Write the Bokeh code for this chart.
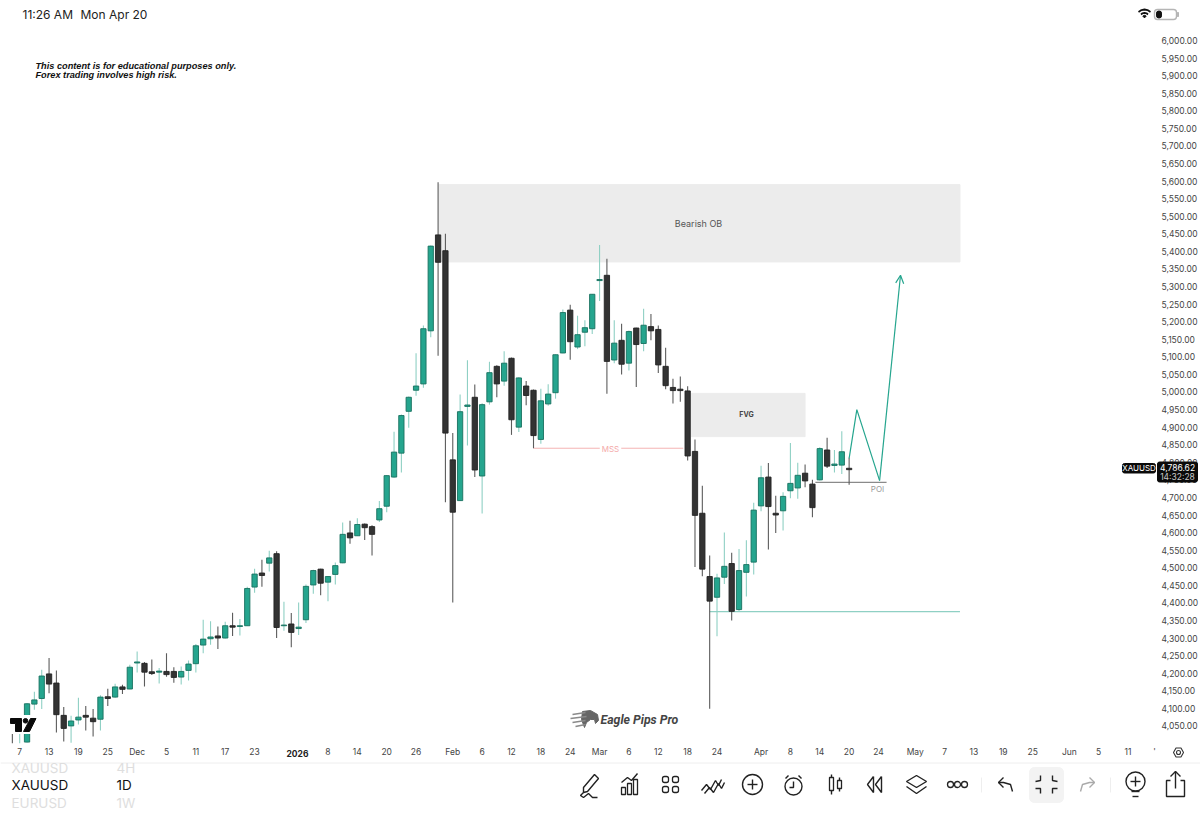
from bokeh.embed import file_html
from bokeh.resources import INLINE
from bokeh.layouts import column
from bokeh.models import (ColumnDataSource, Range1d, LinearAxis, FixedTicker, NumeralTickFormatter,
                          Label, Arrow, OpenHead)
from bokeh.plotting import figure

# ------- daily XAUUSD bars (first bar index = -1) -------
opens = [4056,4040,4004,4112,4128,4198,4172,4080,4050,4067,4080,4072,4069,4133,4132,4161,4155,4229,4228,4204,4203,4205,4205,4189,4208,4227,4280,4298,4306,4300,4335,4333,4335,4445,4485,4513,4540,4335,4340,4327,4352,4451,4496,4459,4481,4514,4599,4591,4624,4617,4636,4675,4758,4826,4945,5005,5023,5174,5447,5402,4807,4691,4959,4985,4761,4972,5073,5031,5096,4900,5017,5005,4865,4966,4998,5111,5233,5128,5170,5180,5317,5332,5091,5147,5082,5182,5138,5186,5178,5073,5013,5008,5003,4831,4655,4475,4416,4473,4512,4381,4487,4516,4676,4758,4655,4662,4719,4727,4769,4738,4750,4835,4791,4792,4783]
highs = [4070,4065,4115,4147,4210,4243,4208,4104,4079,4130,4107,4098,4137,4156,4170,4167,4224,4262,4232,4239,4215,4257,4217,4219,4236,4283,4352,4348,4333,4346,4372,4354,4446,4497,4523,4548,4547,4403,4371,4401,4452,4494,4497,4476,4515,4629,4634,4641,4626,4621,4690,4764,4887,4936,4987,5110,5189,5417,5597,5450,4883,4993,5090,5021,4968,5086,5076,5116,5098,5042,5031,5007,5009,5022,5107,5235,5248,5217,5204,5279,5418,5379,5204,5194,5175,5183,5237,5222,5189,5126,5038,5044,5016,4865,4733,4535,4483,4600,4543,4553,4578,4685,4790,4798,4705,4715,4855,4799,4794,4750,4843,4870,4835,4888,4813]
lows = [4001,4001,4003,4096,4098,4143,4031,4006,4002,4054,4037,4020,4037,4107,4130,4141,4154,4202,4162,4195,4171,4190,4173,4168,4179,4202,4257,4281,4269,4299,4306,4307,4335,4429,4446,4489,4300,4321,4274,4309,4343,4426,4422,4405,4452,4513,4568,4590,4579,4535,4630,4658,4756,4771,4898,4989,5012,5156,5103,4686,4401,4690,4848,4758,4654,4964,4985,5018,4878,4886,4962,4840,4853,4961,4981,5110,5092,5122,5130,5165,5259,4995,5082,5050,5061,5014,5116,5147,5054,5008,4967,4972,4805,4502,4476,4099,4305,4454,4350,4374,4418,4481,4661,4552,4599,4606,4698,4696,4729,4644,4748,4784,4771,4767,4736]
closes = [4040,4061,4113,4124,4192,4169,4082,4043,4064,4075,4075,4062,4132,4128,4161,4154,4217,4232,4203,4199,4206,4196,4188,4205,4226,4278,4297,4303,4300,4335,4331,4335,4441,4482,4478,4528,4330,4337,4316,4331,4447,4492,4456,4475,4506,4595,4585,4623,4614,4595,4668,4762,4829,4933,4985,5017,5180,5415,5369,4883,4658,4944,4963,4778,4964,5055,5023,5082,4921,5040,4990,4876,4975,4994,5106,5226,5143,5163,5183,5278,5320,5087,5139,5079,5172,5135,5190,5174,5077,5018,5004,5004,4818,4649,4496,4405,4471,4504,4376,4492,4509,4664,4756,4674,4650,4703,4740,4763,4747,4671,4839,4789,4795,4830,4779]

# ------- axes -------
price_ticks = list(range(4050, 6001, 50))
date_tick_pos = [0,4,8,12,16,20,24,28,32,42,46,50,54,59,63,67,71,75,79,83,87,91,95,101,105,109,113,117,122,126,130,134,138,143,147,151,154.6]
date_tick_lbl = ["7","13","19","25","Dec","5","11","17","23","8","14","20","26","Feb","6","12","18","24","Mar","6","12","18","24","Apr","8","14","20","24","May","7","13","19","25","Jun","5","11","'"]
bold_year = "2026"

# ------- chart annotations -------
ob_left, ob_right, ob_top, ob_bottom = 57.1, 128.1, 5590, 5370
fvg_left, fvg_right, fvg_top, fvg_bottom = 91.5, 107.0, 4996, 4873
mss_x, mss_y = [70, 90.4], 4840
poi_x, poi_y = [108.4, 118.1], 4743
support_x, support_y = [94, 128.1], 4375
path_x = [113, 114.05, 117.15, 120]
path_y = [4811, 4950, 4748, 5332]

FONT = "Inter"
TEAL, TEAL_EDGE, TEAL_WICK = "#25a58e", "#17705f", "#8fd0c4"
DARK, DARK_EDGE, DARK_WICK = "#333333", "#222222", "#5c5c5c"
INK = "#222222"
MAIN_TOP = 30

# ------- top status strip -------
top = figure(width=1200, height=MAIN_TOP, x_range=Range1d(0, 1200), y_range=Range1d(30, 0),
             output_backend="svg", toolbar_location=None, outline_line_color=None, frame_align=False,
             min_border=0, x_axis_location=None, y_axis_location=None)
top.grid.visible = False
top.add_layout(Label(x=22, y=14, text="11:26 AM", text_font=FONT, text_font_size="12px", text_color=INK, text_baseline="middle"))
top.add_layout(Label(x=80, y=14, text="Mon Apr 20", text_font=FONT, text_font_size="12px", text_color=INK, text_baseline="middle"))
top.multi_line(xs=[[1138,1141,1144,1147,1150],[1140.5,1142,1144,1146,1147.5]],
               ys=[[11.5,9.6,9,9.6,11.5],[14,12.8,12.3,12.8,14]], line_color="#111111", line_width=1.8)
top.patch([1142.3,1144,1145.7,1144],[15.6,14.8,15.6,17.4], color="#111111")
top.quad(left=[1154], right=[1176], top=[9], bottom=[19], fill_color="white", line_color="#b5b5b5", line_width=1.4, border_radius=3)
top.quad(left=[1156], right=[1161], top=[10.6], bottom=[17.4], color="#111111", border_radius=2)
top.quad(left=[1176.8], right=[1178], top=[12], bottom=[16], color="#b5b5b5")

# ------- main chart (frame fills the whole canvas, axes sit at fixed locations inside it) -------
p = figure(width=1200, height=728, x_range=Range1d(-2.616, 160.87), y_range=Range1d(3957.3, 6028.45),
           output_backend="svg", toolbar_location=None, outline_line_color=None, frame_align=False,
           min_border=0, x_axis_location=None, y_axis_location=None)
p.grid.visible = False
p.extra_x_ranges["px"] = Range1d(0, 1200)
p.extra_y_ranges["py"] = Range1d(758, 30)

yax = LinearAxis(ticker=FixedTicker(ticks=price_ticks), formatter=NumeralTickFormatter(format="0,0.00"),
                 fixed_location=154.74,
                 axis_line_color=None, major_tick_line_color=None, minor_tick_line_color=None,
                 major_tick_out=0, major_tick_in=0, minor_tick_out=0, minor_tick_in=0,
                 major_label_text_font=FONT, major_label_text_font_size="8.5px",
                 major_label_text_color="#444444", major_label_standoff=6)
p.add_layout(yax, "right")
xax = LinearAxis(ticker=FixedTicker(ticks=date_tick_pos),
                 major_label_overrides=dict(zip(date_tick_pos, date_tick_lbl)),
                 fixed_location=4006,
                 axis_line_color=None, major_tick_line_color=None, minor_tick_line_color=None,
                 major_tick_out=0, major_tick_in=0, minor_tick_out=0, minor_tick_in=0,
                 major_label_text_font=FONT, major_label_text_font_size="8.5px",
                 major_label_text_color="#444444", major_label_standoff=6)
p.add_layout(xax, "below")

# zones (under the candles)
p.quad(left=[ob_left], right=[ob_right], top=[ob_top], bottom=[ob_bottom], color="#ececec")
p.quad(left=[fvg_left], right=[fvg_right], top=[fvg_top], bottom=[fvg_bottom], color="#ececec")
p.line(mss_x, [mss_y]*2, line_color="#f4b4b4", line_width=1)
p.line(support_x, [support_y]*2, line_color=TEAL_WICK, line_width=1.2)
p.line(poi_x, [poi_y]*2, line_color="#8a8a8a", line_width=1.2)

idx = list(range(-1, len(opens) - 1))
up = [c >= o for o, c in zip(opens, closes)]
src = ColumnDataSource(dict(
    x=idx, o=opens, h=highs, l=lows, c=closes,
    wick=[TEAL_WICK if u else DARK_WICK for u in up],
    fill=[TEAL if u else DARK for u in up],
    edge=[TEAL_EDGE if u else DARK_EDGE for u in up],
))
p.segment("x", "h", "x", "l", source=src, line_color="wick", line_width=1.1)
p.vbar(x="x", top="o", bottom="c", width=0.72, source=src, fill_color="fill", line_color="edge", line_width=0.9)

# projection path
p.line(path_x[:3], path_y[:3], line_color=TEAL, line_width=1.2)
p.add_layout(Arrow(x_start=path_x[2], y_start=path_y[2], x_end=path_x[3], y_end=path_y[3],
                   line_color=TEAL, line_width=1.2,
                   end=OpenHead(size=8, line_color=TEAL, line_width=1.2)))

def lab(x, y, text, size, color=INK, style="normal", align="left", font=FONT, **kw):
    p.add_layout(Label(x=x, y=y - MAIN_TOP, x_units="canvas", y_units="canvas", text=text, text_font=font,
                       text_font_size=size, text_color=color, text_font_style=style, text_align=align,
                       text_baseline="middle", **kw))

PX = dict(x_range_name="px", y_range_name="py")

lab(698, 223, "Bearish OB", "9px", "#555555", align="center")
lab(746, 414, "FVG", "7px", "#444444", "bold", "center")
lab(610, 448.5, "MSS", "8px", "#f4a9a9", align="center", background_fill_color="white", padding=2)
lab(877, 488, "POI", "8px", "#9a9a9a", align="center")
lab(35, 65.5, "This content is for educational purposes only.", "9.2px", "#111111", "bold italic", font="Liberation Sans")
lab(35, 74, "Forex trading involves high risk.", "9.2px", "#111111", "bold italic", font="Liberation Sans")
lab(600, 719, "Eagle Pips Pro", "12.3px", "#444444", "bold italic", font="Roboto")
lab(297, 752.5, bold_year, "8.5px", "#222222", "bold", "center")

# TradingView mark and eagle mark
p.quad(left=[8], right=[38], top=[715], bottom=[733], color="white", **PX)
p.patch([10,21,21,15,15,10],[718,718,731,731,723,723], color="#0a0a0a", **PX)
p.patch([30,35.5,29,23],[718,718,731,731], color="#0a0a0a", **PX)
p.scatter([25],[720.3], size=4.6, color="#0a0a0a", **PX)
p.patch([582,590,597,598,595,594,590,586,584,581],[711,710,714,720,723,719,719,722,727,719], color="#666666", **PX)
p.multi_line([[572,585],[570,586],[572,585],[575,585]],[[714,712],[718,716],[722,720],[726,724]],
             line_color="#8a8a8a", line_width=1.6, **PX)

# last-price tags (above the axis labels, below their own text)
p.quad(left=[1122,1157], right=[1155,1197], top=[463,461.5], bottom=[472.5,481.5], color="#0a0a0a",
       border_radius=2, level="annotation", **PX)
lab(1138.5, 467.8, "XAUUSD", "8px", "white", align="center")
lab(1177, 467, "4,786.62", "8.5px", "white", align="center")
lab(1177, 476, "14:32:28", "8.5px", "#c8c8c8", align="center")

# settings hexagon
p.patch([1173,1175.5,1180.5,1183,1180.5,1175.5], [752,747.5,747.5,752,756.5,756.5], fill_alpha=0, line_color="#333333", line_width=1.1, **PX)
p.scatter([1178],[752], size=4, fill_alpha=0, line_color="#333333", line_width=1.1, **PX)

# ------- bottom toolbar -------
b = figure(width=1200, height=69, x_range=Range1d(0, 1200), y_range=Range1d(827, 758),
           output_backend="svg", toolbar_location=None, outline_line_color=None, frame_align=False,
           min_border=0, x_axis_location=None, y_axis_location=None)
b.grid.visible = False
b.line([0,1200],[762.5,762.5], line_color="#eeeeee", line_width=1)

def blab(x, y, text, size, color):
    b.add_layout(Label(x=x, y=y, text=text, text_font=FONT, text_font_size=size, text_color=color, text_baseline="middle"))
blab(11, 767, "XAUUSD", "13.5px", "#dedede"); blab(116, 767, "4H", "13.5px", "#dedede")
blab(11, 784, "XAUUSD", "13.5px", "#111111"); blab(116, 784, "1D", "13.5px", "#111111")
blab(11, 802, "EURUSD", "13.5px", "#dedede"); blab(116, 802, "1W", "13.5px", "#dedede")

b.quad(left=[1029], right=[1063], top=[767], bottom=[802], color="#f3f3f3", border_radius=5)
b.line([981,981],[777,792], line_color="#eeeeee"); b.line([1110,1110],[777,792], line_color="#eeeeee")
icon_xs = [
 [594,598,587,583,583,594],[583,580,583,588,592,597],
 [621,627,631,637],
 [701,706,710,715,718,721],[704,709,713,718,721,724],
 [747,757],[752,752],
 [793,793,789],[785,788],[798,801],
 [831,831],[839,839],
 [873,867,873,873],[881,875,881,881],
 [916,926,916,906,916],[906,916,926],
 [1012,1010,1003,998],[1003,998,1003],
 [1040,1040,1035],[1052,1052,1057],[1035,1040,1040],[1057,1052,1052],
 [1130,1140],[1135,1135],[1131,1139],[1132,1138],
 [1170,1166,1166,1184,1184,1180],[1175,1175],[1170,1175,1180],
]
icon_ys = [
 [774,778,791,792,787,774],[792,795,797,793,797,797],
 [782,777,780,773],
 [790,784,789,780,785,779],[793,787,792,783,788,782],
 [784,784],[779,789],
 [781,787,787],[778,775],[775,778],
 [774,794],[777,791],
 [776,784,792,776],[776,784,792,776],
 [775,781,787,781,775],[786,793,786],
 [791,784,782,782],[777,782,787],
 [775,780,781],[775,780,781],[788,788,793],[788,788,793],
 [781,781],[776,786],[791,791],[796,796],
 [780,780,796,796,780,780],[788,771],[776,771,776],
]
b.multi_line(icon_xs, icon_ys, line_color="#222222", line_width=1.4)
b.multi_line([[1080,1082,1089,1094],[1089,1094,1089]], [[791,784,782,782],[777,782,787]], line_color="#aaaaaa", line_width=1.4)
b.quad(left=[621,627,633], right=[625,631,637], top=[787,783,779], bottom=[794,794,794], fill_alpha=0, line_color="#222222", line_width=1.3)
b.quad(left=[662,672,662,672], right=[668,678,668,678], top=[776,776,786,786], bottom=[782,782,792,792],
       fill_alpha=0, line_color="#222222", line_width=1.3, border_radius=2)
b.quad(left=[829,837], right=[833,841], top=[777,780], bottom=[790,788], fill_color="white", line_color="#222222", line_width=1.3)
b.scatter([752,793,1135],[784,786,781], size=[20,17,19], fill_alpha=0, line_color="#222222", line_width=1.4)
b.scatter([950,957,964],[784,784,784], size=6, fill_alpha=0, line_color="#222222", line_width=1.3)

open("out.html", "w").write(file_html(column(top, p, b, spacing=0), INLINE))
